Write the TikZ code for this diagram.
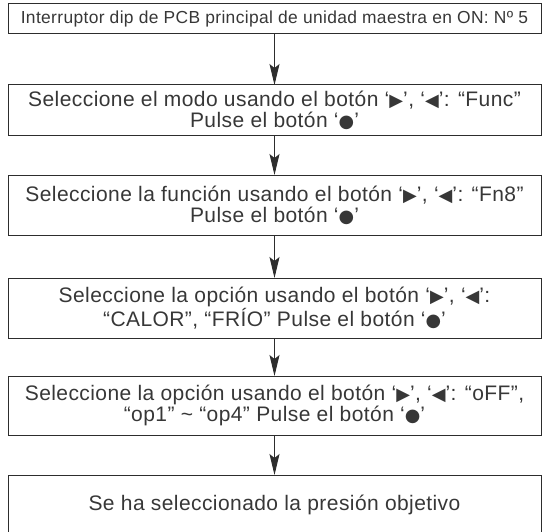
\documentclass[tikz,border=0pt]{standalone}
\usepackage{fontspec}
\setmainfont[LetterSpace=2]{Liberation Sans}
\newfontfamily\symfont[Scale=0.85]{DejaVu Sans}
\usetikzlibrary{arrows.meta,positioning}
\definecolor{inkgray}{RGB}{45,45,45}
\definecolor{textgray}{RGB}{55,55,55}
\newcommand{\btnder}{{\symfont ▶}}
\newcommand{\btnizq}{{\symfont ◀}}
\newcommand{\btnok}{{\symfont ●}}
\tikzset{
  paso/.style={rectangle, draw=inkgray, line width=1pt, text=textgray,
               minimum width=533pt, inner sep=0pt, outer sep=0pt, align=center,
               font=\fontsize{21}{21}\selectfont},
  pasochico/.style={paso, font=\fontsize{17.4}{18}\selectfont},
  flecha/.style={-{Stealth[length=21pt, width=10pt, inset=4pt]}, line width=1pt, inkgray},
}

\begin{document}
\begin{tikzpicture}
\useasboundingbox (0,0) rectangle (543pt,-532pt);
\clip (0,0) rectangle (543pt,-532pt);
\node[pasochico, minimum height=30pt, anchor=north west] (dip) at (8pt,-4pt)
  {Interruptor dip de PCB principal de unidad maestra en ON: Nº 5};
\node[paso, minimum height=50pt, below=51pt of dip] (modo)
  {Seleccione el modo usando el botón ‘\btnder’, ‘\btnizq’: “Func”\\ Pulse el botón ‘\btnok’};
\node[paso, minimum height=60pt, below=40pt of modo] (func)
  {Seleccione la función usando el botón ‘\btnder’, ‘\btnizq’: “Fn8”\\ Pulse el botón ‘\btnok’};
\node[paso, minimum height=60pt, below=43pt of func] (calor)
  {Seleccione la opción usando el botón ‘\btnder’, ‘\btnizq’:\\ “CALOR”, “FRÍO” Pulse el botón ‘\btnok’};
\node[paso, minimum height=59pt, below=38pt of calor] (opc)
  {Seleccione la opción usando el botón ‘\btnder’, ‘\btnizq’: “oFF”,\\ “op1” \textasciitilde{} “op4” Pulse el botón ‘\btnok’};
\node[paso, minimum height=60pt, below=40pt of opc] (fin)
  {Se ha seleccionado la presión objetivo};
\foreach \a/\b in {dip/modo, modo/func, func/calor, calor/opc, opc/fin}
  \draw[flecha] (\a) -- (\b);
\end{tikzpicture}
\end{document}
